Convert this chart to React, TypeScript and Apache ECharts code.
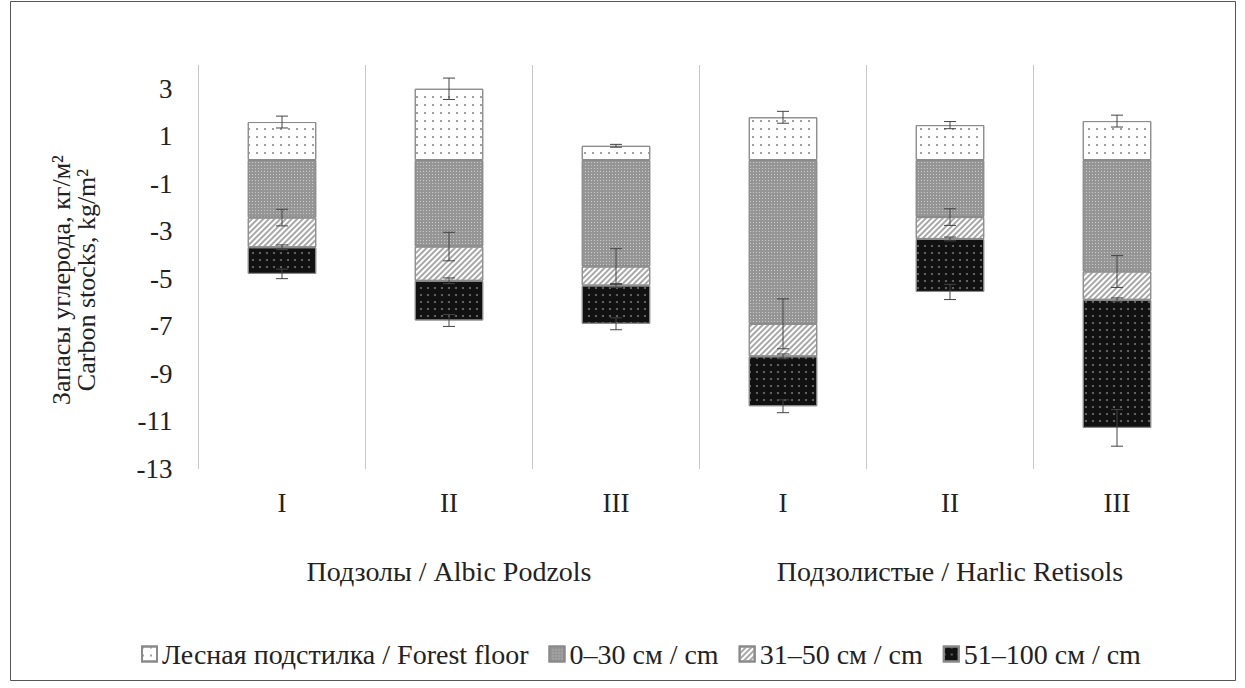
import React, { useEffect, useRef } from 'react';
import * as echarts from 'echarts';

const soilGroups = ['Подзолы / Albic Podzols', 'Подзолистые / Harlic Retisols'];
const sites = ['I', 'II', 'III', 'I', 'II', 'III'];
const seriesNames = ['Лесная подстилка / Forest floor', '0–30 см / cm', '31–50 см / cm', '51–100 см / cm'];

const forestFloor = [1.6, 3.0, 0.6, 1.8, 1.47, 1.64];
const layer0to30 = [-2.42, -3.64, -4.48, -6.89, -2.4, -4.69];
const layer31to50 = [-1.25, -1.44, -0.8, -1.37, -0.92, -1.19];
const layer51to100 = [-1.12, -1.67, -1.61, -2.1, -2.23, -5.39];

const errForest = [0.25, 0.45, 0.06, 0.25, 0.15, 0.25];
const err0to30 = [0.35, 0.6, 0.75, 1.05, 0.35, 0.67];
const err31to50 = [0.1, 0.12, 0.08, 0.1, 0.08, 0.08];
const err51to100 = [0.2, 0.25, 0.25, 0.27, 0.32, 0.77];

const yTickLabels = [-13, -11, -9, -7, -5, -3, -1, 1, 3];

const FONT = "'Liberation Serif', 'Times New Roman', serif";

export default function App() {
  const ref = useRef<HTMLDivElement>(null);
  useEffect(() => {
    document.body.style.margin = '0';
    const chart = echarts.init(ref.current!, null, { renderer: 'svg' });

    const errData: number[][] = [];
    sites.forEach((_, i) => {
      const e1 = forestFloor[i];
      const e2 = layer0to30[i];
      const e3 = e2 + layer31to50[i];
      const e4 = e3 + layer51to100[i];
      errData.push([i, e1, errForest[i]]);
      errData.push([i, e2, err0to30[i]]);
      errData.push([i, e3, err31to50[i]]);
      errData.push([i, e4, err51to100[i]]);
    });

    const border = { borderColor: '#8a8a8a', borderWidth: 1 };

    chart.setOption({
      animation: false,
      textStyle: { fontFamily: FONT },
      graphic: [
        {
          type: 'rect',
          shape: { x: 10.5, y: 1.5, width: 1225, height: 679 },
          style: { fill: 'none', stroke: '#555', lineWidth: 1 },
          silent: true,
        },
      ],
      grid: { left: 198.5, right: 44.5, top: 65, bottom: 219 },
      legend: {
        data: seriesNames,
        left: 136,
        top: 635,
        icon: 'rect',
        itemWidth: 15,
        itemHeight: 15,
        itemGap: 20,
        textStyle: { fontFamily: FONT, fontSize: 28, color: '#222' },
      },
      xAxis: [
        {
          type: 'category',
          data: sites,
          axisLine: { show: false },
          axisTick: { show: false },
          axisLabel: { fontFamily: FONT, fontSize: 27, color: '#222', margin: 20 },
          splitLine: { show: true, showMaxLine: false, lineStyle: { color: '#c8c8c8', width: 1 } },
        },
        {
          type: 'category',
          data: soilGroups,
          position: 'bottom',
          offset: 68,
          axisLine: { show: false },
          axisTick: { show: false },
          splitLine: { show: false },
          axisLabel: { fontFamily: FONT, fontSize: 28, color: '#222', margin: 20 },
        },
      ],
      yAxis: {
        type: 'value',
        min: -13,
        max: 4,
        interval: 1,
        axisLine: { show: false },
        axisTick: { show: false },
        splitLine: { show: false },
        axisLabel: {
          fontFamily: FONT,
          fontSize: 27,
          color: '#222',
          margin: 26,
          formatter: (v: number) => (yTickLabels.includes(v) ? String(v) : ''),
        },
        name: 'Запасы углерода, кг/м²\nCarbon stocks, kg/m²',
        nameLocation: 'middle',
        nameRotate: 90,
        nameGap: 100,
        nameTextStyle: { fontFamily: FONT, fontSize: 26, lineHeight: 25, color: '#222', padding: [0, 26, 0, 0] },
      },
      series: [
        {
          name: seriesNames[0],
          type: 'bar',
          stack: 'c',
          barWidth: '41%',
          data: forestFloor,
          itemStyle: {
            color: '#ffffff',
            ...border,
            decal: { symbol: 'rect', symbolSize: 1, color: '#a0a0a0', dashArrayX: [1.5, 5.5], dashArrayY: [1.5, 5.5] },
          },
        },
        {
          name: seriesNames[1],
          type: 'bar',
          stack: 'c',
          data: layer0to30,
          itemStyle: {
            color: '#959595',
            ...border,
            decal: { symbol: 'rect', symbolSize: 1, color: 'rgba(255,255,255,0.5)', dashArrayX: [1, 2], dashArrayY: [1, 2] },
          },
        },
        {
          name: seriesNames[2],
          type: 'bar',
          stack: 'c',
          data: layer31to50,
          itemStyle: {
            color: '#ffffff',
            ...border,
            decal: { symbol: 'rect', symbolSize: 1, color: '#a8a8a8', dashArrayX: [1, 0], dashArrayY: [1.5, 2], rotation: -Math.PI / 4 },
          },
        },
        {
          name: seriesNames[3],
          type: 'bar',
          stack: 'c',
          data: layer51to100,
          itemStyle: {
            color: '#111111',
            ...border,
            decal: { symbol: 'circle', symbolSize: 1, color: '#6f6f6f', dashArrayX: [2, 5], dashArrayY: [2, 5] },
          },
        },
        {
          type: 'custom',
          name: 'err',
          data: errData,
          encode: { x: 0, y: 1 },
          z: 10,
          renderItem: (params: any, api: any) => {
            const i = api.value(0);
            const v = api.value(1);
            const e = api.value(2);
            const top = api.coord([i, v + e]);
            const bot = api.coord([i, v - e]);
            const w = 6;
            const style = { stroke: '#444', lineWidth: 1 };
            return {
              type: 'group',
              children: [
                { type: 'line', shape: { x1: top[0], y1: top[1], x2: bot[0], y2: bot[1] }, style },
                { type: 'line', shape: { x1: top[0] - w, y1: top[1], x2: top[0] + w, y2: top[1] }, style },
                { type: 'line', shape: { x1: bot[0] - w, y1: bot[1], x2: bot[0] + w, y2: bot[1] }, style },
              ],
            };
          },
        },
      ],
    });
    return () => chart.dispose();
  }, []);
  return <div ref={ref} style={{ width: 1245, height: 688 }} />;
}
